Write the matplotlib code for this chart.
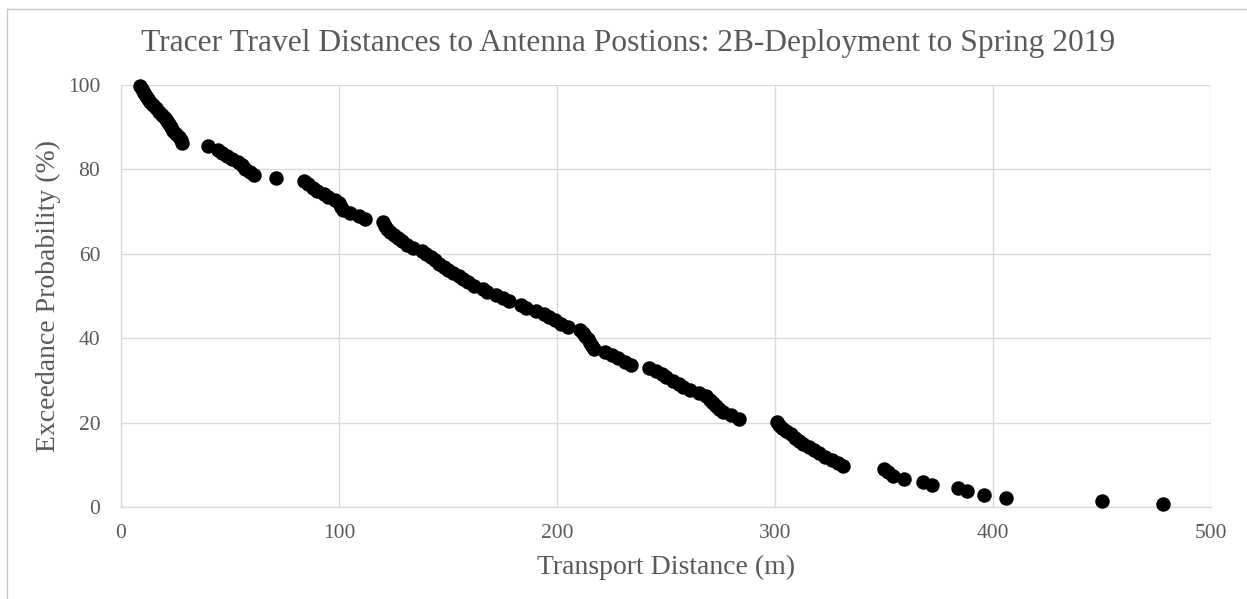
import matplotlib
matplotlib.use("Agg")
import matplotlib.pyplot as plt
from matplotlib.lines import Line2D

# Transport distance (m) of each tracer and its exceedance probability (%)
distance_m = [
    478, 450, 406, 396, 388, 384, 372, 368, 359, 354,
    352, 350, 331, 329, 326, 323, 320, 318, 315.5, 313,
    311, 309, 307.5, 305, 303, 302, 301, 283.5, 280, 276,
    274.5, 273, 271.5, 270, 268.5, 265, 261, 258, 256, 253,
    250, 248, 245.5, 242, 234, 231, 228, 225, 222, 217,
    216, 215, 214, 213, 212, 210.5, 205, 202, 199, 196.5,
    194, 190.5, 186, 183.5, 178, 175, 172, 168, 166, 162,
    159, 157, 155, 152.5, 150, 148, 146, 144, 142, 140,
    138, 134, 131, 129, 127, 125, 123.5, 122, 121, 120,
    112, 109, 105, 102, 101, 100, 98, 95, 93, 90,
    88, 86, 84, 71, 61, 59, 57, 55.5, 53.5, 51,
    48.5, 46.5, 44.5, 40, 28, 27.5, 26.5, 25, 24, 23,
    22, 21, 20, 19, 17.5, 16, 14.8, 13.5, 12.5, 11.5,
    10.5, 9.5, 8.5,
]
exceedance_pct = [
    0.7, 1.45, 2.2, 2.95, 3.7, 4.45, 5.2, 5.95, 6.7, 7.45,
    8.2, 8.95, 9.7, 10.45, 11.2, 11.95, 12.7, 13.45, 14.2, 14.95,
    15.7, 16.45, 17.2, 17.95, 18.7, 19.45, 20.2, 20.95, 21.7, 22.45,
    23.2, 23.95, 24.7, 25.45, 26.2, 26.95, 27.7, 28.45, 29.2, 29.95,
    30.7, 31.45, 32.2, 32.95, 33.7, 34.45, 35.2, 35.95, 36.7, 37.45,
    38.2, 38.95, 39.7, 40.45, 41.2, 41.95, 42.7, 43.45, 44.2, 44.95,
    45.7, 46.45, 47.2, 47.95, 48.7, 49.45, 50.2, 50.95, 51.7, 52.45,
    53.2, 53.95, 54.7, 55.45, 56.2, 56.95, 57.7, 58.45, 59.2, 59.95,
    60.7, 61.45, 62.2, 62.95, 63.7, 64.45, 65.2, 65.95, 66.7, 67.45,
    68.2, 68.95, 69.7, 70.45, 71.2, 71.95, 72.7, 73.45, 74.2, 74.95,
    75.7, 76.45, 77.2, 77.95, 78.7, 79.45, 80.2, 80.95, 81.7, 82.45,
    83.2, 83.95, 84.7, 85.45, 86.2, 86.95, 87.7, 88.45, 89.2, 89.95,
    90.7, 91.45, 92.2, 92.95, 93.7, 94.45, 95.2, 95.95, 96.7, 97.45,
    98.2, 98.95, 99.7,
]

x_ticks = [0, 100, 200, 300, 400, 500]
y_ticks = [0, 20, 40, 60, 80, 100]

title = "Tracer Travel Distances to Antenna Postions: 2B-Deployment to Spring 2019"
x_label = "Transport Distance (m)"
y_label = "Exceedance Probability (%)"

text_color = "#595959"
grid_color = "#d9d9d9"

plt.rcParams["font.family"] = ["Liberation Serif", "DejaVu Serif"]

fig = plt.figure(figsize=(12.47, 5.99), dpi=100)
ax = fig.add_axes([121 / 1247, 1 - 507 / 599, 1090 / 1247, 422 / 599])

ax.plot(distance_m, exceedance_pct, linestyle="none", marker="o",
        markersize=9.4, color="black", zorder=3, clip_on=False)

ax.set_xlim(0, 500)
ax.set_ylim(0, 100)
ax.set_xticks(x_ticks)
ax.set_yticks(y_ticks)
ax.tick_params(length=0, labelsize=15.5, labelcolor=text_color)
ax.tick_params(axis="x", pad=12)
ax.tick_params(axis="y", pad=15)

ax.grid(True, color=grid_color, linewidth=1.0)
ax.set_axisbelow(True)
for side in ("top", "right"):
    ax.spines[side].set_visible(False)
for side in ("left", "bottom"):
    ax.spines[side].set_color(grid_color)
    ax.spines[side].set_linewidth(1.0)

ax.set_xlabel(x_label, fontsize=20, color=text_color, labelpad=9)
ax.set_ylabel(y_label, fontsize=20, color=text_color, labelpad=5)
fig.text(628 / 1247, 1 - 43 / 599, title, fontsize=22.7, color=text_color,
         ha="center", va="center")

# outer chart frame (top and left edges)
fig.add_artist(Line2D([7 / 1247, 1.0], [1 - 9 / 599, 1 - 9 / 599],
                      transform=fig.transFigure, color="#c8c8c8", linewidth=1.0))
fig.add_artist(Line2D([7 / 1247, 7 / 1247], [0.0, 1 - 9 / 599],
                      transform=fig.transFigure, color="#c8c8c8", linewidth=1.0))

fig.savefig("out.png", dpi=100)
